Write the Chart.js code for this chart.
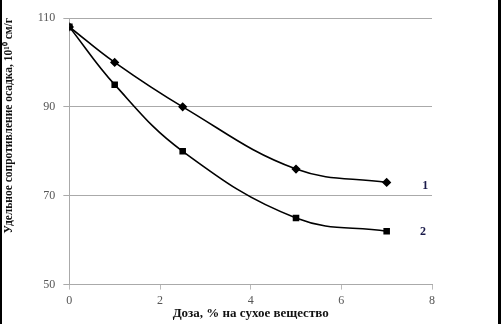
<!DOCTYPE html>
<html lang="ru">
<head>
  <meta charset="UTF-8">
  <title>Доза</title>
  <script src="https://cdn.jsdelivr.net/npm/chart.js"></script>
  <style>
    html, body { margin: 0; padding: 0; background: white; }
    #wrap {
      width: 501px;
      height: 324px;
      box-sizing: border-box;
      border-left: 2px solid black;
      border-right: 3px solid black;
      position: relative;
    }
    canvas { display: block; }
  </style>
</head>
<body>
  <div id="wrap"><canvas id="chart" width="496" height="324"></canvas></div>

  <script type="text/javascript">
    const doses = [0, 1, 2.5, 5, 7];
    const series1 = [108, 100, 90, 76, 73];
    const series2 = [108, 95, 80, 65, 62];
    const curveLabels = ['1', '2'];
    const xTicks = [0, 2, 4, 6, 8];
    const yTicks = [50, 70, 90, 110];

    const pts = (vals) => doses.map((d, i) => ({ x: d, y: vals[i] }));

    // labels "1" and "2" at the right end of each curve
    const curveNames = {
      id: 'curveNames',
      afterDatasetsDraw(chart) {
        const ctx = chart.ctx;
        const xs = chart.scales.x, ys = chart.scales.y;
        const last = doses.length - 1;
        ctx.save();
        ctx.font = 'bold 12px "Liberation Serif", serif';
        ctx.fillStyle = '#1a1a4a';
        ctx.textAlign = 'center';
        ctx.textBaseline = 'middle';
        ctx.fillText(curveLabels[0], xs.getPixelForValue(7.85), ys.getPixelForValue(series1[last]) + 4);
        ctx.fillText(curveLabels[1], xs.getPixelForValue(7.8), ys.getPixelForValue(series2[last]) + 1);
        ctx.restore();
      }
    };

    new Chart(document.getElementById('chart'), {
      type: 'scatter',
      data: {
        datasets: [{
          label: curveLabels[0],
          data: pts(series1),
          showLine: true,
          tension: 0.4,
          borderColor: '#000',
          backgroundColor: '#000',
          borderWidth: 1.6,
          pointStyle: 'rectRot',
          pointRadius: 3.5
        }, {
          label: curveLabels[1],
          data: pts(series2),
          showLine: true,
          tension: 0.4,
          borderColor: '#000',
          backgroundColor: '#000',
          borderWidth: 1.6,
          pointStyle: 'rect',
          pointRadius: 3.5
        }]
      },
      options: {
        responsive: false,
        animation: false,
        layout: { padding: { top: 18, right: 66, left: 0, bottom: 4 } },
        plugins: { legend: { display: false }, tooltip: { enabled: false } },
        scales: {
          x: {
            type: 'linear',
            min: 0, max: 8,
            afterBuildTicks: s => { s.ticks = xTicks.map(v => ({ value: v })); },
            grid: { display: true, drawOnChartArea: false, drawTicks: true, tickLength: 5, color: '#bbb' },
            border: { color: '#aaa' },
            ticks: { color: '#555', font: { family: '"Liberation Serif", serif', size: 12 }, padding: 4 },
            title: {
              display: true,
              text: 'Доза, % на сухое вещество',
              color: '#111',
              font: { family: '"Liberation Serif", serif', size: 13, weight: 'bold', lineHeight: 1 },
              padding: { top: -5, bottom: 0 }
            }
          },
          y: {
            min: 50, max: 110,
            afterBuildTicks: s => { s.ticks = yTicks.map(v => ({ value: v })); },
            grid: { color: '#aaa', tickLength: 6 },
            border: { color: '#aaa' },
            ticks: { color: '#555', font: { family: '"Liberation Serif", serif', size: 12 }, padding: 8 },
            title: {
              display: true,
              align: 'end',
              text: 'Удельное сопротивление осадка, 10¹⁰ см/г',
              color: '#111',
              font: { family: '"Liberation Serif", serif', size: 11.5, weight: 'bold' },
              padding: { top: 0, bottom: 14 }
            }
          }
        }
      },
      plugins: [curveNames]
    });
  </script>
</body>
</html>
